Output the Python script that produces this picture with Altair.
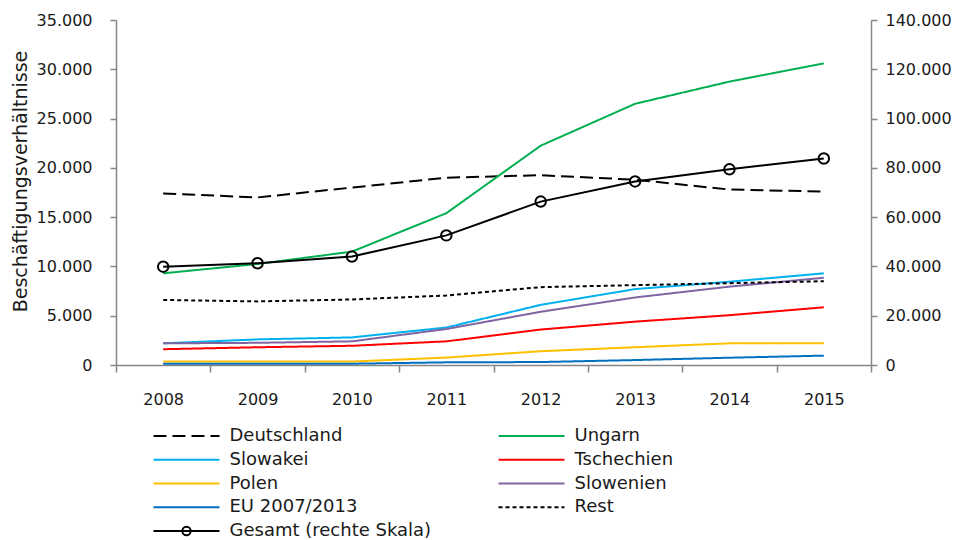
import altair as alt
import pandas as pd

years = ["2008", "2009", "2010", "2011", "2012", "2013", "2014", "2015"]

deutschland = [17400, 17000, 18000, 19000, 19250, 18800, 17800, 17600]
ungarn = [9300, 10250, 11500, 15400, 22250, 26500, 28750, 30600]
slowakei = [2200, 2600, 2800, 3800, 6100, 7700, 8450, 9300]
tschechien = [1600, 1800, 1950, 2400, 3600, 4400, 5050, 5850]
polen = [350, 350, 350, 750, 1400, 1800, 2200, 2200]
slowenien = [2200, 2250, 2400, 3650, 5400, 6850, 7950, 8850]
eu_2007_2013 = [130, 130, 130, 270, 300, 500, 740, 950]
rest = [6600, 6450, 6650, 7050, 7900, 8100, 8300, 8500]
gesamt = [39900, 41300, 44000, 52600, 66300, 74500, 79400, 83800]

series_names = ["Deutschland", "Ungarn", "Slowakei", "Tschechien", "Polen",
                "Slowenien", "EU 2007/2013", "Rest"]
series_values = [deutschland, ungarn, slowakei, tschechien, polen,
                 slowenien, eu_2007_2013, rest]
gesamt_name = "Gesamt (rechte Skala)"

legend_names = ["Deutschland", "Ungarn", "Slowakei", "Tschechien", "Polen",
                "Slowenien", "EU 2007/2013", "Rest", gesamt_name]
legend_col = [0, 1, 0, 1, 0, 1, 0, 1, 0]
legend_row = [0, 0, 1, 1, 2, 2, 3, 3, 4]

all_names = series_names + [gesamt_name]
colors = ["#000000", "#00B050", "#00B0F0", "#FF0000", "#FFC000",
          "#8064A2", "#0070C0", "#000000", "#000000"]
dashes = [[13, 6], [1, 0], [1, 0], [1, 0], [1, 0], [1, 0], [1, 0], [4, 3], [1, 0]]

rows = []
for i, (n, vals) in enumerate(zip(series_names, series_values)):
    for y, v in zip(years, vals):
        rows.append({"year": y, "series": n, "value": v, "ord": i})
df = pd.DataFrame(rows)
gdf = pd.DataFrame({"year": years, "value": gesamt, "series": gesamt_name})
leg = pd.DataFrame({"name": legend_names, "col": legend_col, "row": legend_row})

FONT = "DejaVu Sans"
GRAY = "#868686"
TXT = "#1a1a1a"

color_scale = alt.Scale(domain=all_names, range=colors)
dash_scale = alt.Scale(domain=all_names, range=dashes)
xscale = alt.Scale(type="band", paddingInner=0, paddingOuter=0)

label_expr = "replace(format(datum.value, ',d'), ',', '.')"

main = alt.Chart(df).mark_line(strokeWidth=2).encode(
    x=alt.X("year:O", scale=xscale, bandPosition=0.5,
            axis=alt.Axis(title=None, labelAngle=0, tickBand="extent",
                          labelPadding=19, tickSize=7, labelFontSize=16)),
    y=alt.Y("value:Q", scale=alt.Scale(domain=[0, 35000]),
            axis=alt.Axis(title="Beschäftigungsverhältnisse", orient="left",
                          values=list(range(0, 35001, 5000)),
                          labelExpr=label_expr, labelFontSize=16,
                          titleFontSize=19, titleFontWeight="normal",
                          titleY=161, titlePadding=6,
                          labelPadding=18, tickSize=6)),
    color=alt.Color("series:N", scale=color_scale, legend=None),
    strokeDash=alt.StrokeDash("series:N", scale=dash_scale, legend=None),
    detail="series:N",
    order=alt.Order("ord:Q"),
)

g_base = alt.Chart(gdf).encode(
    x=alt.X("year:O", scale=xscale, bandPosition=0.5, axis=None),
    y=alt.Y("value:Q", scale=alt.Scale(domain=[0, 140000]),
            axis=alt.Axis(title=None, orient="right",
                          values=list(range(0, 140001, 20000)),
                          labelExpr=label_expr, labelFontSize=16,
                          labelPadding=8, tickSize=6)),
)
g_line = g_base.mark_line(color="black", strokeWidth=2)
g_pts = g_base.mark_point(shape="circle", filled=False, color="black",
                          strokeWidth=2, size=110, opacity=1)
g_layer = alt.layer(g_line, g_pts)

SYM = 66 / 345
lx = alt.X("x0:Q", scale=alt.Scale(domain=[0, 1], range=[37.5, 382.5]), axis=None)
ly = alt.Y("row:Q", scale=alt.Scale(domain=[0, 4], range=[416, 511]), axis=None)
leg_base = alt.Chart(leg).transform_calculate(
    x0="datum.col", x1=f"datum.col + {SYM}", xm=f"datum.col + {SYM / 2}"
)
leg_rules = leg_base.mark_rule(strokeWidth=2).encode(
    x=lx, x2="x1:Q", y=ly,
    color=alt.Color("name:N", scale=color_scale, legend=None),
    strokeDash=alt.StrokeDash("name:N", scale=dash_scale, legend=None),
)
leg_pt = leg_base.transform_filter(
    alt.datum.name == gesamt_name
).mark_point(shape="circle", filled=False, color="black", strokeWidth=2,
             size=70, opacity=1).encode(x=alt.X("xm:Q", axis=None), y=ly)
leg_text = leg_base.mark_text(align="left", baseline="middle", dx=76,
                              fontSize=18, font=FONT, color=TXT).encode(
    x=lx, y=ly, text="name:N")
leg_layer = alt.layer(leg_rules, leg_pt, leg_text)

chart = alt.layer(main, g_layer, leg_layer).resolve_scale(
    x="independent", y="independent"
).properties(
    width=755, height=345,
    padding={"left": 3, "top": 4, "right": 0, "bottom": 0},
).configure_view(stroke=None).configure_axis(
    grid=False, domainColor=GRAY, tickColor=GRAY, domainWidth=1.5, tickWidth=1.5,
    labelColor=TXT, titleColor=TXT, labelFont=FONT, titleFont=FONT,
)

chart.save("out.html", embed_options={"renderer": "svg", "actions": False})
